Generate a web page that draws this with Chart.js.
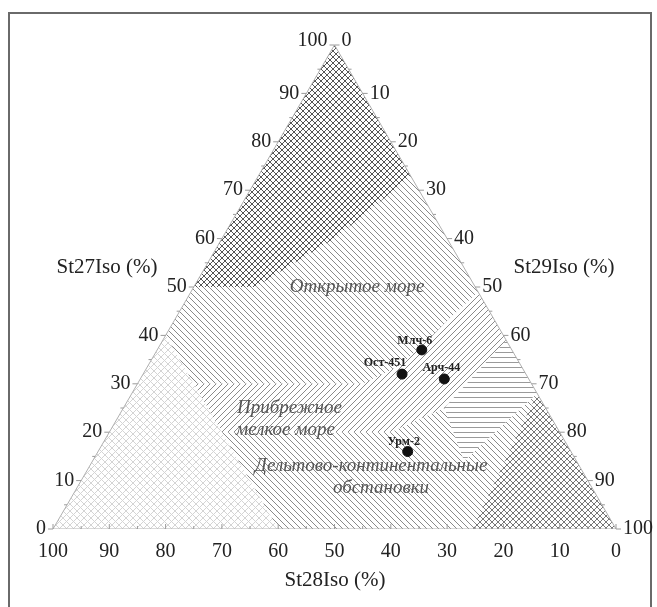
<!DOCTYPE html>
<html>
<head>
<meta charset="utf-8">
<script src="https://cdn.jsdelivr.net/npm/chart.js@4.4.0/dist/chart.umd.min.js"></script>
<style>
html, body { margin: 0; padding: 0; background: #fff; }
#wrap { width: 657px; height: 607px; position: relative; }
</style>
</head>
<body>
<div id="wrap"><canvas id="myChart"></canvas></div>
<script>
// samples, values in % : St27, St28, St29
const sampleNames = ['Млч-6', 'Ост-451', 'Арч-44', 'Урм-2'];
const st27 = [37, 32, 31, 16];
const st28 = [16, 22, 15, 29];
const st29 = [47, 46, 54, 55];

const tickValues = [0, 10, 20, 30, 40, 50, 60, 70, 80, 90, 100];
const axisTitles = ['St27Iso (%)', 'St28Iso (%)', 'St29Iso (%)'];

// fields, corners as [St27, St28, St29]
const fieldTop = [[100, 0, 0], [50, 50, 0], [50, 39, 11], [60, 20, 20], [67, 9, 24], [73, 0, 27]];
const fieldOpenSea = [[73, 0, 27], [49, 0, 51], [34, 21, 45], [30, 30, 40], [30, 60, 10], [40, 60, 0], [50, 50, 0], [50, 39, 11], [60, 20, 20], [67, 9, 24]];
const fieldBandFwd = [[49, 0, 51], [39, 0, 61], [25, 18, 57], [20, 30, 50], [30, 30, 40], [34, 21, 45]];
const fieldBandHor = [[39, 0, 61], [28, 0, 72], [14, 20, 66], [25, 18, 57]];
const fieldCoast = [[30, 60, 10], [30, 30, 40], [20, 30, 50], [20, 60, 20]];
const fieldDelta = [[20, 60, 20], [20, 30, 50], [25, 18, 57], [14, 20, 66], [28, 0, 72], [0, 25.5, 74.5], [0, 60, 40]];
const fieldLeft = [[40, 60, 0], [0, 100, 0], [0, 60, 40]];
const fieldRight = [[28, 0, 72], [0, 0, 100], [0, 25.5, 74.5]];

const fieldLabels = [
    { lines: ['Открытое море'], at: [50, 21, 29], shift: 0 },
    { lines: ['Прибрежное', 'мелкое море'], at: [25, 45.5, 29.5], shift: -4 },
    { lines: ['Дельтово-континентальные', 'обстановки'], at: [13, 37, 50], shift: 10 }
];

const H = Math.sqrt(3) / 2;
function toXY(p) {
    return { x: (p[2] + p[0] / 2) / 100, y: p[0] / 100 * H };
}

function makePattern(size, draw) {
    const c = document.createElement('canvas');
    c.width = size; c.height = size;
    const g = c.getContext('2d');
    g.fillStyle = '#fff';
    g.fillRect(0, 0, size, size);
    draw(g, size);
    return document.createElement('canvas').getContext('2d').createPattern(c, 'repeat');
}
function back(g, s) { for (const k of [-s, 0, s]) { g.moveTo(k, 0); g.lineTo(k + s, s); } }
function fwd(g, s) { for (const k of [-s, 0, s]) { g.moveTo(k + s, 0); g.lineTo(k, s); } }

const patCrossDark = makePattern(6, (g, s) => { g.strokeStyle = '#555'; g.lineWidth = 1; g.beginPath(); back(g, s); fwd(g, s); g.stroke(); });
const patCrossMid = makePattern(6, (g, s) => { g.strokeStyle = '#777'; g.lineWidth = 1; g.beginPath(); back(g, s); fwd(g, s); g.stroke(); });
const patCrossLight = makePattern(7, (g, s) => { g.strokeStyle = '#d4d4d4'; g.lineWidth = 1; g.beginPath(); back(g, s); fwd(g, s); g.stroke(); });
const patBack = makePattern(6, (g, s) => { g.strokeStyle = '#8a8a8a'; g.lineWidth = 1; g.beginPath(); back(g, s); g.stroke(); });
const patFwd = makePattern(6, (g, s) => { g.strokeStyle = '#8a8a8a'; g.lineWidth = 1; g.beginPath(); fwd(g, s); g.stroke(); });
const patHor = makePattern(5, (g, s) => { g.strokeStyle = '#9a9a9a'; g.lineWidth = 1; g.beginPath(); g.moveTo(0, 2.5); g.lineTo(s, 2.5); g.stroke(); });

function fieldSet(corners, pattern) {
    const pts = corners.map(toXY);
    pts.push(pts[0]);
    return {
        type: 'line', data: pts, fill: 'shape', backgroundColor: pattern,
        borderWidth: 0, pointRadius: 0, tension: 0, order: 5
    };
}

const datasets = [
    fieldSet(fieldLeft, patCrossLight),
    fieldSet(fieldRight, patCrossMid),
    fieldSet(fieldDelta, patBack),
    fieldSet(fieldCoast, patFwd),
    fieldSet(fieldBandHor, patHor),
    fieldSet(fieldBandFwd, patFwd),
    fieldSet(fieldOpenSea, patBack),
    fieldSet(fieldTop, patCrossDark),
    {
        type: 'line', data: [[100, 0, 0], [0, 100, 0], [0, 0, 100], [100, 0, 0]].map(toXY),
        borderColor: '#b0b0b0', borderWidth: 1, pointRadius: 0, fill: false, order: 2
    },
    {
        type: 'scatter',
        data: st27.map((v, i) => toXY([v, st28[i], st29[i]])),
        backgroundColor: '#111', borderColor: '#111', pointRadius: 5, order: 1
    }
];

const ternaryDecor = {
    id: 'ternaryDecor',
    beforeDraw(chart) {
        const ctx = chart.ctx;
        ctx.save();
        ctx.strokeStyle = '#6a6a6a';
        ctx.lineWidth = 2;
        ctx.beginPath();
        ctx.moveTo(9, 607); ctx.lineTo(9, 13); ctx.lineTo(651, 13); ctx.lineTo(651, 607);
        ctx.stroke();
        ctx.restore();
    },
    afterDatasetsDraw(chart) {
        const ctx = chart.ctx;
        const sx = chart.scales.x, sy = chart.scales.y;
        const px = p => { const q = toXY(p); return [sx.getPixelForValue(q.x), sy.getPixelForValue(q.y)]; };
        ctx.save();
        // ticks
        ctx.strokeStyle = '#9a9a9a';
        ctx.lineWidth = 1;
        for (let v = 0; v <= 100; v += 5) {
            const len = v % 10 === 0 ? 5 : 3;
            let [x, y] = px([v, 100 - v, 0]);
            ctx.beginPath(); ctx.moveTo(x, y); ctx.lineTo(x - len, y); ctx.stroke();
            [x, y] = px([100 - v, 0, v]);
            ctx.beginPath(); ctx.moveTo(x, y); ctx.lineTo(x + len, y); ctx.stroke();
            [x, y] = px([0, v, 100 - v]);
            ctx.beginPath(); ctx.moveTo(x, y); ctx.lineTo(x, y - len); ctx.stroke();
        }
        // tick labels
        ctx.fillStyle = '#222';
        ctx.font = '20px "Liberation Serif", serif';
        ctx.textBaseline = 'middle';
        tickValues.forEach(v => {
            let [x, y] = px([v, 100 - v, 0]);
            ctx.textAlign = 'right';
            ctx.fillText(String(v), x - 7, y - (v === 100 ? 4 : 0));
            [x, y] = px([100 - v, 0, v]);
            ctx.textAlign = 'left';
            ctx.fillText(String(v), x + 7, y - (v === 0 ? 4 : 0));
            [x, y] = px([0, v, 100 - v]);
            ctx.textAlign = 'center';
            ctx.fillText(String(v), x, y + 23);
        });
        // axis titles
        ctx.font = '21px "Liberation Serif", serif';
        ctx.textAlign = 'center';
        ctx.fillText(axisTitles[0], 107, 267);
        ctx.fillText(axisTitles[2], 564, 267);
        ctx.fillText(axisTitles[1], 335, 580);
        // field names
        ctx.fillStyle = '#555';
        ctx.font = 'italic 19px "Liberation Serif", serif';
        fieldLabels.forEach(f => {
            const [x, y] = px(f.at);
            f.lines.forEach((t, i) => ctx.fillText(t, x + i * f.shift, y + i * 22));
        });
        // sample names
        ctx.fillStyle = '#222';
        ctx.font = 'bold 12px "Liberation Serif", serif';
        const offs = [[-7, -9], [-17, -11], [-3, -11], [-4, -10]];
        sampleNames.forEach((n, i) => {
            const [x, y] = px([st27[i], st28[i], st29[i]]);
            ctx.fillText(n, x + offs[i][0], y + offs[i][1]);
        });
        ctx.restore();
    }
};

const ctx = document.getElementById('myChart').getContext('2d');
const myChart = new Chart(ctx, {
    type: 'scatter',
    data: { datasets: datasets },
    options: {
        responsive: true,
        maintainAspectRatio: false,
        animation: false,
        layout: { padding: { left: 53, right: 41, top: 45, bottom: 78 } },
        plugins: { legend: { display: false }, tooltip: { enabled: false } },
        scales: {
            x: { type: 'linear', min: 0, max: 1, display: false },
            y: { type: 'linear', min: 0, max: H, display: false }
        }
    },
    plugins: [ternaryDecor]
});
</script>
</body>
</html>
